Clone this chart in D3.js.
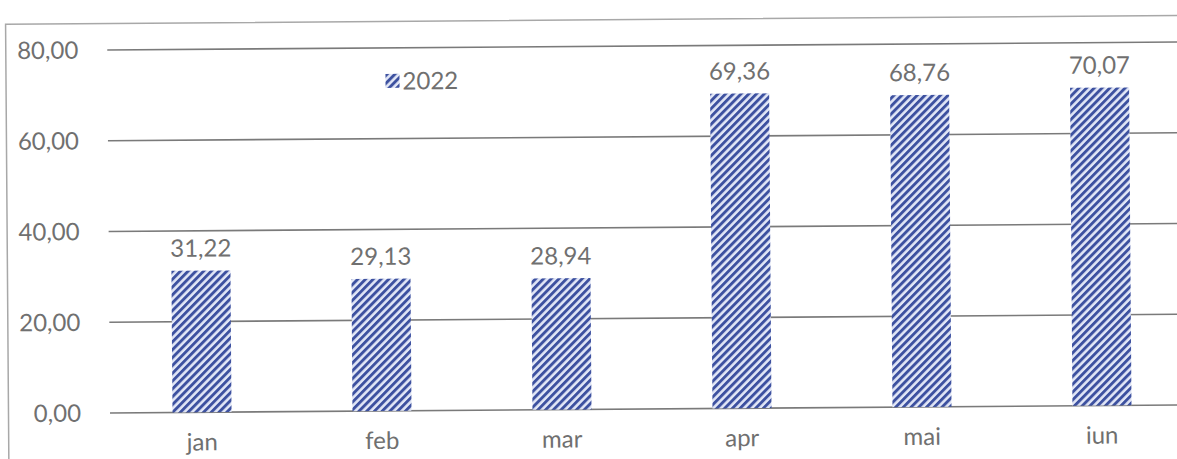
<!DOCTYPE html>
<html>
<head>
<meta charset="utf-8">
<script src="https://cdn.jsdelivr.net/npm/d3@7"></script>
<style>
  body { margin: 0; background: #fff; }
  svg text { font-family: Lato, "Open Sans", sans-serif; fill: #707070; }
</style>
</head>
<body>
<script>
// data
const months = ["jan", "feb", "mar", "apr", "mai", "iun"];
const values2022 = [31.22, 29.13, 28.94, 69.36, 68.76, 70.07];
const yTicks = [0, 20, 40, 60, 80];
const seriesName = "2022";

const W = 1177, H = 459;
const fmt = v => v.toFixed(2).replace(".", ",");

const svg = d3.select("body").append("svg")
    .attr("width", W).attr("height", H);

const defs = svg.append("defs");
const pat = defs.append("pattern")
    .attr("id", "hatch")
    .attr("patternUnits", "userSpaceOnUse")
    .attr("width", 5.5).attr("height", 5.5)
    .attr("patternTransform", "rotate(45)");
pat.append("rect").attr("width", 5.5).attr("height", 5.5).attr("fill", "#e2e7f7");
pat.append("rect").attr("width", 2.9).attr("height", 5.5).attr("fill", "#3d51a0");

// scan is slightly tilted
const g = svg.append("g").attr("transform", "rotate(-0.43, 110, 413)");

// chart frame
g.append("path")
    .attr("d", "M8.5,470 V23.5 H1200")
    .attr("fill", "none").attr("stroke", "#a8a8a8").attr("stroke-width", 1.5);

const x = d3.scaleBand().domain(months).range([112, 1192]).paddingInner(0.672).paddingOuter(0.336);
const y = d3.scaleLinear().domain([0, 80]).range([413, 50]);

// gridlines
g.append("g").selectAll("line").data(yTicks).join("line")
    .attr("x1", 110).attr("x2", 1200)
    .attr("y1", d => y(d)).attr("y2", d => y(d))
    .attr("stroke", "#7a7a7a").attr("stroke-width", 1.6);

// y labels
g.append("g").selectAll("text").data(yTicks).join("text")
    .attr("x", 81).attr("y", d => y(d))
    .attr("dy", "0.35em")
    .attr("text-anchor", "end")
    .style("font-size", "24px")
    .text(fmt);

// bars
g.append("g").selectAll("rect").data(values2022).join("rect")
    .attr("x", (d, i) => x(months[i]))
    .attr("width", x.bandwidth())
    .attr("y", d => y(d))
    .attr("height", d => y(0) - y(d))
    .attr("fill", "url(#hatch)");

// value labels
g.append("g").selectAll("text").data(values2022).join("text")
    .attr("x", (d, i) => x(months[i]) + x.bandwidth() / 2)
    .attr("y", d => y(d) - 14)
    .attr("text-anchor", "middle")
    .style("font-size", "24px")
    .text(fmt);

// category labels
g.append("g").selectAll("text").data(months).join("text")
    .attr("x", d => x(d) + x.bandwidth() / 2)
    .attr("y", 451)
    .attr("text-anchor", "middle")
    .style("font-size", "24px")
    .text(d => d);

// legend
const leg = g.append("g").attr("transform", "translate(388,76)");
leg.append("rect").attr("width", 14).attr("height", 14).attr("fill", "url(#hatch)");
leg.append("text").attr("x", 17).attr("y", 7).attr("dy", "0.36em")
    .style("font-size", "24px").text(seriesName);
</script>
</body>
</html>
